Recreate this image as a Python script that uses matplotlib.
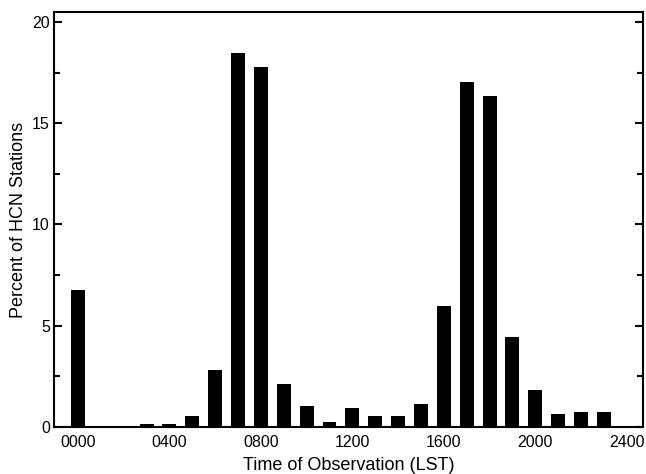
import matplotlib.pyplot as plt
from matplotlib.ticker import MultipleLocator

plt.rcParams['font.family'] = ['Liberation Sans', 'DejaVu Sans']

hours = list(range(24))
percent = [6.75, 0.04, 0.04, 0.13, 0.13, 0.52, 2.82, 18.45, 17.76, 2.13,
           1.03, 0.26, 0.93, 0.53, 0.53, 1.15, 5.98, 17.05, 16.35, 4.46,
           1.84, 0.65, 0.75, 0.75]
tick_pos = [0, 4, 8, 12, 16, 20, 24]
tick_labels = ['0000', '0400', '0800', '1200', '1600', '2000', '2400']

fig = plt.figure(figsize=(6.46, 4.74), dpi=100)
ax = fig.add_axes([0.0836, 0.0992, 0.9114, 0.8755])

ax.bar(hours, percent, width=0.61, color='black')

ax.set_xlim(-1.05, 24.7)
ax.set_ylim(0, 20.49)
ax.set_xticks(tick_pos)
ax.set_xticklabels(tick_labels, fontsize=11.5)
ax.tick_params(axis='x', length=0, pad=6)

# y ticks inward on both sides
ax.yaxis.set_major_locator(MultipleLocator(5))
ax.yaxis.set_minor_locator(MultipleLocator(2.5))
ax.tick_params(axis='y', which='major', direction='in', length=6, width=1.5,
               labelsize=11.5, pad=3, right=True)
ax.tick_params(axis='y', which='minor', direction='in', length=4, width=1.5,
               right=True)

for s in ax.spines.values():
    s.set_linewidth(1.5)

ax.set_xlabel('Time of Observation (LST)', fontsize=13, labelpad=5)
ax.set_ylabel('Percent of HCN Stations', fontsize=13, labelpad=4)

fig.savefig('out.png', dpi=100)
